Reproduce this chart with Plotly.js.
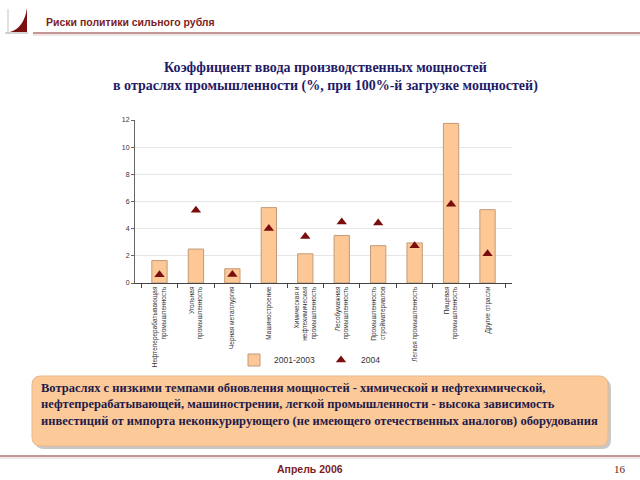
<!DOCTYPE html>
<html><head><meta charset="utf-8">
<script src="https://cdn.plot.ly/plotly-3.0.1.min.js"></script>
<style>html,body{margin:0;padding:0;background:#fff}#chart{width:640px;height:480px}</style>
</head><body><div id="chart"></div>
<script>
const categories = [
  "Нефтеперерабатывающая<br>промышленность",
  "Угольная<br>промышленность",
  "Черная металлургия",
  "Машиностроение",
  "Химическая и<br>нефтехимическая<br>промышленность",
  "Лесобумажная<br>промышленность",
  "Промышленность<br>стройматериалов",
  "Легкая промышленность",
  "Пищевая<br>промышленность",
  "Другие отрасли"
];
const values2001_2003 = [1.65, 2.5, 1.05, 5.55, 2.15, 3.5, 2.75, 2.95, 11.75, 5.4];
const values2004 = [0.6, 5.35, 0.62, 4.02, 3.42, 4.5, 4.42, 2.75, 5.8, 2.15];
const yTicks = [0, 2, 4, 6, 8, 10, 12];

const W = 640, H = 480, ML = 135, MR = 128, MT = 120, MB = 197;
const PW = W - ML - MR, PH = H - MT - MB;
const px = x => (x - ML) / PW;
const py = y => (H - MB - y) / PH;

const darkRed = '#7d1d1d';
const navy = '#1f1b66';

const traces = [
  {type:'bar', name:'2001-2003', x:categories, y:values2001_2003, width:0.42,
   marker:{color:'#fdc896', line:{color:'#c39a78', width:1}}},
  {type:'scatter', mode:'markers', name:'2004', x:categories, y:values2004,
   marker:{symbol:'triangle-up', size:9, color:'#7a0d0d'}}
];

function roundRect(x0, y0, x1, y1, r){
  const P = (x, y) => px(x) + ',' + py(y);
  return 'M ' + P(x0 + r, y0) + ' L ' + P(x1 - r, y0) + ' Q ' + P(x1, y0) + ' ' + P(x1, y0 + r) +
    ' L ' + P(x1, y1 - r) + ' Q ' + P(x1, y1) + ' ' + P(x1 - r, y1) +
    ' L ' + P(x0 + r, y1) + ' Q ' + P(x0, y1) + ' ' + P(x0, y1 - r) +
    ' L ' + P(x0, y0 + r) + ' Q ' + P(x0, y0) + ' ' + P(x0 + r, y0) + ' Z';
}

const shapes = [
  // header line
  {type:'line', xref:'paper', yref:'paper', x0:px(33), x1:px(640), y0:py(33), y1:py(33), line:{color:'#8c2f2f', width:1.2}},
  {type:'line', xref:'paper', yref:'paper', x0:px(33), x1:px(640), y0:py(35), y1:py(35), line:{color:'#e8dede', width:1.5}},
  // logo
  {type:'path', xref:'paper', yref:'paper', path:'M '+px(10)+','+py(32)+' L '+px(27)+','+py(32)+' L '+px(27)+','+py(8)+' Q '+px(24)+','+py(28)+' '+px(10)+','+py(32)+' Z', fillcolor:'#7a1010', line:{width:0}},
  {type:'line', xref:'paper', yref:'paper', x0:px(8), x1:px(8), y0:py(9), y1:py(33), line:{color:'#aaaaaa', width:0.7}},
  {type:'line', xref:'paper', yref:'paper', x0:px(5), x1:px(28), y0:py(33), y1:py(33), line:{color:'#888888', width:0.7}},
  // text box shadow
  {type:'path', xref:'paper', yref:'paper', path:roundRect(35, 379, 611, 449, 9), fillcolor:'#9a9a9a', opacity:0.55, line:{width:0}},
  // text box
  {type:'path', xref:'paper', yref:'paper', path:roundRect(32, 376, 608, 446, 9), fillcolor:'#fcca98', line:{color:'#e8b888', width:1}},
  // footer line
  {type:'line', xref:'paper', yref:'paper', x0:px(0), x1:px(640), y0:py(456), y1:py(456), line:{color:'#8c2f2f', width:1.2}},
  {type:'line', xref:'paper', yref:'paper', x0:px(0), x1:px(640), y0:py(458), y1:py(458), line:{color:'#e8dede', width:1.5}}
];

const annotations = [
  {xref:'paper', yref:'paper', x:px(44), y:py(22), xanchor:'left', yanchor:'middle', showarrow:false,
   text:'<b>Риски политики сильного рубля</b>', font:{family:'Liberation Sans, Arial', size:10.5, color:darkRed}},
  {xref:'paper', yref:'paper', x:px(325), y:py(77), xanchor:'center', yanchor:'middle', showarrow:false,
   text:'<b>Коэффициент ввода производственных мощностей<br>в отраслях промышленности (%, при 100%-й загрузке мощностей)</b>',
   font:{family:'Liberation Serif, Times New Roman', size:14, color:navy}},
  {xref:'paper', yref:'paper', x:px(39), y:py(404), xanchor:'left', yanchor:'middle', align:'left', showarrow:false,
   text:'<b>Вотраслях с низкими темпами обновления мощностей - химической и нефтехимической,<br>нефтепрерабатывающей, машинострении, легкой промышленности - высока зависимость<br>инвестиций от импорта неконкурирующего (не имеющего отечественных аналогов) оборудования</b>',
   font:{family:'Liberation Serif, Times New Roman', size:12.5, color:'#1f1b4a'}},
  {xref:'paper', yref:'paper', x:px(275), y:py(469), xanchor:'left', yanchor:'middle', showarrow:false,
   text:'<b>Апрель 2006</b>', font:{family:'Liberation Sans, Arial', size:10.5, color:darkRed}},
  {xref:'paper', yref:'paper', x:px(628), y:py(469), xanchor:'right', yanchor:'middle', showarrow:false,
   text:'16', font:{family:'Liberation Serif, Times New Roman', size:11, color:'#5a2020'}}
];

const layout = {
  width:W, height:H, margin:{l:ML, r:MR, t:MT, b:MB},
  paper_bgcolor:'#ffffff', plot_bgcolor:'#ffffff',
  showlegend:true,
  legend:{orientation:'h', x:px(234), y:py(360), xanchor:'left', yanchor:'middle',
          font:{family:'Liberation Sans, Arial', size:8.5, color:'#333'}, entrywidth:42, itemwidth:30, bgcolor:'rgba(0,0,0,0)'},
  xaxis:{type:'category', tickangle:-90, tickfont:{family:'Liberation Sans, Arial', size:6.5, color:'#333'},
         showline:true, linecolor:'#444', linewidth:1, ticks:'outside', ticklen:4, tickcolor:'#444',
         tickson:'boundaries', showgrid:false, fixedrange:true},
  yaxis:{range:[0,12], tickvals:yTicks, ticktext:yTicks.map(String), tickfont:{family:'Liberation Sans, Arial', size:7, color:'#333'},
         showline:true, linecolor:'#666', linewidth:1, ticks:'outside', ticklen:3, tickcolor:'#666',
         showgrid:true, gridcolor:'#e6e6e6', gridwidth:1, zeroline:false},
  shapes:shapes, annotations:annotations
};
Plotly.newPlot('chart', traces, layout, {staticPlot:true, displayModeBar:false});
</script></body></html>
